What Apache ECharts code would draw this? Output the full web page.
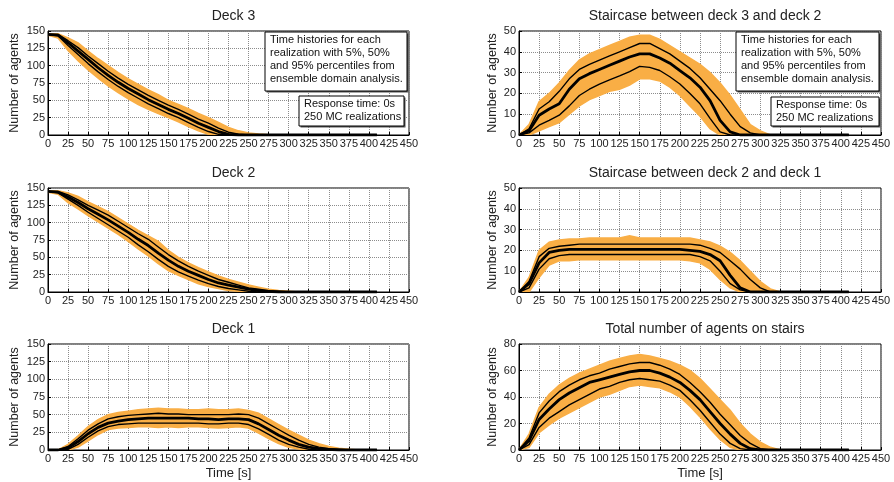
<!DOCTYPE html>
<html>
<head>
<meta charset="utf-8">
<script src="https://cdn.jsdelivr.net/npm/echarts@6/dist/echarts.min.js"></script>
<style>
  html, body { margin: 0; padding: 0; background: #fff; }
  #chart { width: 894px; height: 482px; }
</style>
</head>
<body>
<div id="chart"></div>
<script>
// time samples [s]; values after the end of each list are zero
var times = [0,12.5,25,37.5,50,62.5,75,87.5,100,112.5,125,137.5,150,162.5,175,187.5,200,212.5,225,237.5,250,262.5,275,287.5,300,312.5,325,337.5,350,362.5,375,387.5,400,410];

// Deck 3
var deck3Median = [145,144,133,121,109,97,86,76,67,59,51,44,37,31,24,17,11,5,1,0];
var deck3P5 = [145,143,129,116,103,91,80,70,61,53,45,38,31,25,18,11,5,1,0];
var deck3P95 = [145,145,136,126,114,103,92,82,73,65,57,50,43,37,30,23,17,10,4,1,0];
var deck3Low = [144,140,122,107,94,82,71,61,52,44,37,31,25,19,12,6,1,0];
var deck3High = [146,146,140,133,121,110,100,90,81,73,65,58,50,44,38,31,25,18,11,6,3,1.5,0.5,0];

// Deck 2
var deck2Median = [145,144,137,129,120,112,104,95,86,76,67,56,46,37,30,24,18,13,10,7,4,2,1,0];
var deck2P5 = [145,143,134,125,115,106,97,88,79,68,58,47,37,29,23,17,12,8,5,3,1,0];
var deck2P95 = [145,145,140,133,125,118,111,102,93,84,76,65,54,45,37,30,24,18,14,10,6,4,2,1,0];
var deck2Low = [144,141,129,120,110,101,92,83,73,62,52,41,31,24,18,12,8,5,2,1,0];
var deck2High = [146,146,143,138,130,123,116,107,98,89,81,73,60,50,42,35,29,23,18,14,10,7,4,2,1,0];

// Deck 1
var deck1Median = [0,0,3,12,23,32,38,41,43,44,45,45,45,45,45,44,44,43,44,44,43,37,29,21,14,8,4,2,1,0];
var deck1P5 = [0,0,1,8,18,27,33,36,37,38,38,38,38,38,38,38,37,37,38,38,36,30,22,14,8,4,1,0];
var deck1P95 = [0,0,5,16,28,37,44,47,49,50,51,52,51,51,50,50,50,50,50,51,50,45,37,29,21,14,8,4,2,1,0];
var deck1Low = [0,0,0,4,13,22,29,31,32,33,33,32,33,32,33,33,32,31,32,33,31,24,16,9,4,1.5,0];
var deck1High = [0,0,8,20,33,43,50,53,55,57,58,59,58,58,57,57,58,57,57,58,56,52,44,36,28,21,14,9,5,2.5,1,0];

// Staircase between deck 3 and deck 2
var stair32Median = [0,2,9.5,12.5,15,22,27,29.5,31.5,33.5,35.5,37.5,39,39,37,34.5,31,27.5,23,16.5,7,1.5,0];
var stair32P5 = [0,1,4.7,7,9.5,14,19,22,24.5,26.5,28.4,30.5,33,32.5,31,28,24.5,20,15,8,1.5,0];
var stair32P95 = [0,3,12.5,16,21,27,31.5,34,36,38,40,42,44,44,41.5,39,35.5,32,27.5,22,16.5,10,4,1,0];
var stair32Low = [0,0,2,4,6,10,14,17,19,21,22,24,27,27,26,23,19,14,9,3,0];
var stair32High = [0,5,16,20,25,31,36,39,41,43,45,47,48,48,46,43,40,37,34,30,25,19,12,5,2,0];

// Staircase between deck 2 and deck 1
var stair21Median = [0,4,14,19,20,20.5,20.5,20.5,20.5,20.5,20.5,20.5,20.5,20.5,20.5,20.5,20.5,20,19.5,18,15,8,2,0];
var stair21P5 = [0,2,11,16,17.5,18,18,18,18,18,18,18,18,18,18,18,18,18,17,15,10,4,1,0];
var stair21P95 = [0,5,17,21,22,22.5,23,23,23,23,23,23,23,23,23,23,23,23,22.5,21,19,15,11,6,2,0];
var stair21Low = [0,0,7,13,15,15,15.5,15.5,15.5,15.5,15.5,15.5,15.5,15.5,15.5,15.5,15.5,15,14,11,6,2,0];
var stair21High = [0,7,20,24,25,25.5,25.5,26,26,26,26,27,26,26,26,26,26,26,25,24,22,19,15,10,5,1.5,0];

// Total number of agents on stairs
var totalMedian = [0,7,23,31,38,43,47,51,53,55,57,59,60,60,58,55,51,45,38,29,20,12,5,1,0];
var totalP5 = [0,4,17,24,29,34,38,42,46,48,51,53,54,53,52,49,45,38,30,21,12,5,1,0];
var totalP95 = [0,9,28,37,44,49,53,56,58,61,63,65,66,66,64,61,57,51,44,36,27,19,11,5,1,0];
var totalLow = [0,2,13,19,24,28,32,36,40,42,45,48,49,48,47,44,40,33,25,16,8,2,0];
var totalHigh = [0,12,32,42,49,54,58,61,64,67,69,71,72,71,69,67,64,60,54,46,38,30,20,12,6,2,0];

var boxText1 = 'Time histories for each\nrealization with 5%, 50%\nand 95% percentiles from\nensemble domain analysis.';
var boxText2 = 'Response time: 0s\n250 MC realizations';

var panels = [
  {title: 'Deck 3', max: 150, step: 25, med: deck3Median, p5: deck3P5, p95: deck3P95, lo: deck3Low, hi: deck3High},
  {title: 'Staircase between deck 3 and deck 2', max: 50, step: 10, med: stair32Median, p5: stair32P5, p95: stair32P95, lo: stair32Low, hi: stair32High},
  {title: 'Deck 2', max: 150, step: 25, med: deck2Median, p5: deck2P5, p95: deck2P95, lo: deck2Low, hi: deck2High},
  {title: 'Staircase between deck 2 and deck 1', max: 50, step: 10, med: stair21Median, p5: stair21P5, p95: stair21P95, lo: stair21Low, hi: stair21High},
  {title: 'Deck 1', max: 150, step: 25, med: deck1Median, p5: deck1P5, p95: deck1P95, lo: deck1Low, hi: deck1High},
  {title: 'Total number of agents on stairs', max: 80, step: 20, med: totalMedian, p5: totalP5, p95: totalP95, lo: totalLow, hi: totalHigh}
];

var gridPos = [
  {left: 48, top: 31, width: 361, height: 104},
  {left: 519, top: 31, width: 362, height: 104},
  {left: 48, top: 188, width: 361, height: 104},
  {left: 519, top: 188, width: 362, height: 104},
  {left: 48, top: 344, width: 361, height: 106},
  {left: 519, top: 344, width: 362, height: 106}
];

var FONT = 'Liberation Sans, Arial, sans-serif';
var ORANGE = '#f9ae45';

function val(arr, i) { return i < arr.length ? arr[i] : 0; }
function pts(arr) { return times.map(function (t, i) { return [t, val(arr, i)]; }); }

// orange envelope of all realizations, drawn as a polygon through the axis scales
function bandRenderer(p) {
  return function (params, api) {
    var poly = [];
    times.forEach(function (t, i) { poly.push(api.coord([t, val(p.hi, i)])); });
    for (var i = times.length - 1; i >= 0; i--) poly.push(api.coord([times[i], val(p.lo, i)]));
    return {
      type: 'polygon',
      shape: {points: poly},
      style: {fill: ORANGE, stroke: ORANGE, lineWidth: 1.5}
    };
  };
}

var grids = [], xAxes = [], yAxes = [], series = [], titles = [];

panels.forEach(function (p, k) {
  var g = gridPos[k];
  grids.push(Object.assign({show: true, borderColor: '#000', borderWidth: 1, containLabel: false}, g));
  titles.push({
    text: p.title, left: g.left + g.width / 2, top: g.top - 27, textAlign: 'center',
    textStyle: {fontFamily: FONT, fontSize: 14, fontWeight: 'normal', color: '#222'}
  });
  xAxes.push({
    gridIndex: k, type: 'value', min: 0, max: 450, interval: 25,
    name: k >= 4 ? 'Time [s]' : '', nameLocation: 'middle', nameGap: 17,
    nameTextStyle: {fontFamily: FONT, fontSize: 13, color: '#222'},
    axisLine: {lineStyle: {color: '#000'}},
    axisTick: {inside: true, length: 3, lineStyle: {color: '#000'}},
    axisLabel: {fontFamily: FONT, fontSize: 11, color: '#222', margin: 3},
    splitLine: {show: true, lineStyle: {color: '#8c8c8c', width: 1, type: [1, 1]}}
  });
  yAxes.push({
    gridIndex: k, type: 'value', min: 0, max: p.max, interval: p.step,
    name: 'Number of agents', nameLocation: 'middle', nameGap: p.max === 150 ? 27 : 20,
    nameTextStyle: {fontFamily: FONT, fontSize: 12.5, color: '#222'},
    axisLine: {show: true, lineStyle: {color: '#000'}},
    axisTick: {show: true, inside: true, length: 3, lineStyle: {color: '#000'}},
    axisLabel: {fontFamily: FONT, fontSize: 11, color: '#222', margin: 3},
    splitLine: {show: true, lineStyle: {color: '#8c8c8c', width: 1, type: [1, 1]}}
  });
  series.push({
    type: 'custom', xAxisIndex: k, yAxisIndex: k, silent: true, z: 2,
    data: [[0, 0]], renderItem: bandRenderer(p), clip: true
  });
  var common = {type: 'line', xAxisIndex: k, yAxisIndex: k, showSymbol: false, symbol: 'none', silent: true};
  series.push(Object.assign({}, common, {data: pts(p.p5), lineStyle: {color: '#000', width: 1.4}, z: 3}));
  series.push(Object.assign({}, common, {data: pts(p.p95), lineStyle: {color: '#000', width: 1.4}, z: 3}));
  series.push(Object.assign({}, common, {data: pts(p.med), lineStyle: {color: '#000', width: 2.8}, z: 4}));
});

function noteBox(x, y, w, h, text, tx, ty) {
  return [
    {type: 'rect', z: 100, shape: {x: x + 1.5, y: y + 1.5, width: w, height: h}, style: {fill: '#555'}},
    {type: 'rect', z: 101, shape: {x: x, y: y, width: w, height: h}, style: {fill: '#fff', stroke: '#000', lineWidth: 1}},
    {type: 'text', z: 102, x: tx, y: ty, style: {text: text, font: '11px ' + FONT, fill: '#111', lineHeight: 12.8}}
  ];
}

var graphics = [].concat(
  noteBox(265, 32, 142, 59, boxText1, 270, 34),
  noteBox(299, 96, 105, 30, boxText2, 304, 98),
  noteBox(736, 32, 143, 59, boxText1, 741, 34),
  noteBox(771, 97, 108, 29, boxText2, 776, 99)
);

var myChart = echarts.init(document.getElementById('chart'), null, {renderer: 'canvas'});
myChart.setOption({
  animation: false,
  backgroundColor: '#fff',
  title: titles,
  grid: grids,
  xAxis: xAxes,
  yAxis: yAxes,
  series: series,
  graphic: graphics
});
</script>
</body>
</html>
